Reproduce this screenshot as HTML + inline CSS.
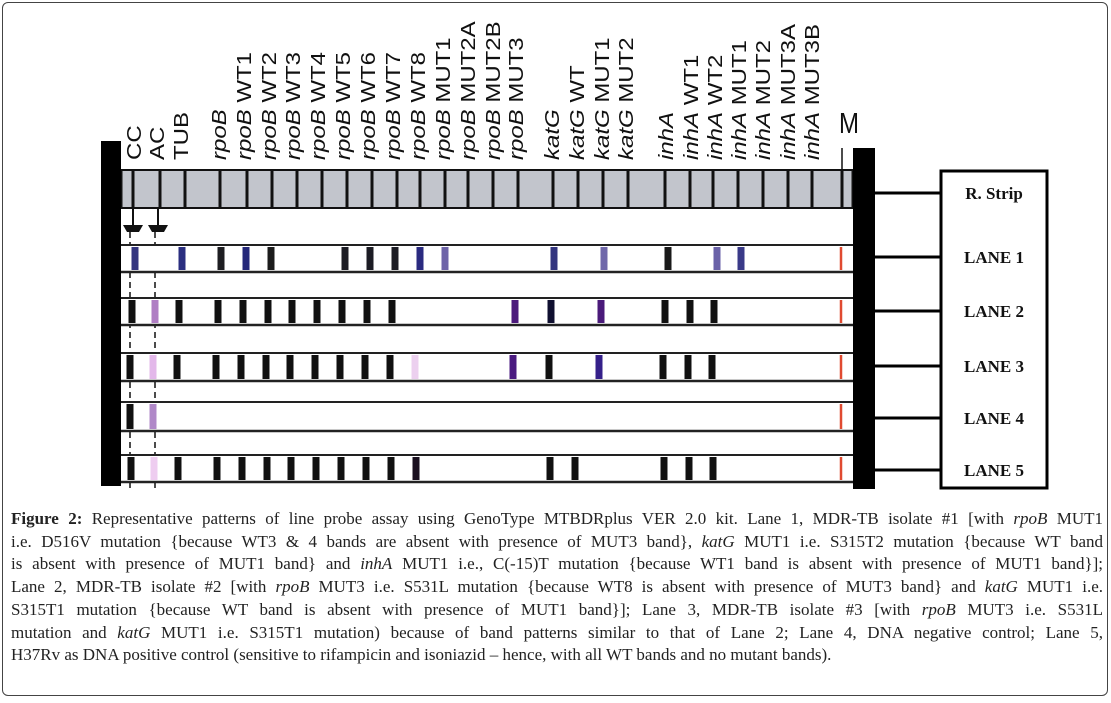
<!DOCTYPE html>
<html><head><meta charset="utf-8">
<style>
body{margin:0;background:#fff;}
#wrap{position:relative;width:1111px;height:703px;overflow:hidden;background:#fff;}
#frame{position:absolute;left:2px;top:2px;width:1104px;height:692px;border:1.5px solid #444;border-radius:6px;}
#cap{position:absolute;left:11px;top:508px;width:1092px;font-family:"Liberation Serif",serif;font-size:17px;line-height:22.7px;color:#222;}
#cap div{text-align:justify;text-align-last:justify;white-space:nowrap;}
#cap div.last{text-align-last:left;}
svg text{font-family:"Liberation Sans",sans-serif;}
</style></head><body>
<div id="wrap">
<div id="frame"></div>
<svg id="fig" width="1111" height="703" style="position:absolute;left:0;top:0"></svg>
<div id="cap">
<div><b>Figure 2:</b> Representative patterns of line probe assay using GenoType MTBDRplus VER 2.0 kit. Lane 1, MDR-TB isolate #1 [with <i>rpoB</i> MUT1</div>
<div>i.e. D516V mutation {because WT3 &amp; 4 bands are absent with presence of MUT3 band}, <i>katG</i> MUT1 i.e. S315T2 mutation {because WT band</div>
<div>is absent with presence of MUT1 band} and <i>inhA</i> MUT1 i.e., C(-15)T mutation {because WT1 band is absent with presence of MUT1 band}];</div>
<div>Lane 2, MDR-TB isolate #2 [with <i>rpoB</i> MUT3 i.e. S531L mutation {because WT8 is absent with presence of MUT3 band} and <i>katG</i> MUT1 i.e.</div>
<div>S315T1 mutation {because WT band is absent with presence of MUT1 band}]; Lane 3, MDR-TB isolate #3 [with <i>rpoB</i> MUT3 i.e. S531L</div>
<div>mutation and <i>katG</i> MUT1 i.e. S315T1 mutation) because of band patterns similar to that of Lane 2; Lane 4, DNA negative control; Lane 5,</div>
<div class="last">H37Rv as DNA positive control (sensitive to rifampicin and isoniazid – hence, with all WT bands and no mutant bands).</div>
</div>
</div>
<script>
const probeGenes = ["","","","rpoB","rpoB","rpoB","rpoB","rpoB","rpoB","rpoB","rpoB","rpoB","rpoB","rpoB","rpoB","rpoB","katG","katG","katG","katG","inhA","inhA","inhA","inhA","inhA","inhA","inhA","M"];
const probeSuffix = ["CC","AC","TUB","","WT1","WT2","WT3","WT4","WT5","WT6","WT7","WT8","MUT1","MUT2A","MUT2B","MUT3","","WT","MUT1","MUT2","","WT1","WT2","MUT1","MUT2","MUT3A","MUT3B",""];
const probeX = [132,155,179,218,243,268,292,317,342,367,392,417,442,467,492,515,551,576,601,625,665,690,714,738,762,787,811,841];
const laneNames = ["LANE 1","LANE 2","LANE 3","LANE 4","LANE 5"];
const laneTop = [245,298,353,402,455];
const laneBottom = [272,325,381,431,482];
const laneShift = [3,0,-2,-2,-1];
// bands per lane: probe index and colour
const lane1Bands = [[0,"#34357f"],[2,"#2b2f80"],[3,"#1e1e22"],[4,"#25287a"],[5,"#1c1c1c"],[8,"#1c1c24"],[9,"#1c1c24"],[10,"#1c1c24"],[11,"#2a2a80"],[12,"#6e64a8"],[16,"#33357f"],[18,"#7068aa"],[20,"#1a1a1a"],[22,"#6a62a8"],[23,"#3a3a88"],[27,"#e04a30"]];
const lane2Bands = [[0,"#111"],[1,"#b07ec4"],[2,"#111"],[3,"#111"],[4,"#111"],[5,"#111"],[6,"#111"],[7,"#111"],[8,"#111"],[9,"#111"],[10,"#111"],[15,"#4c1a7c"],[16,"#101030"],[18,"#4a1a7a"],[20,"#111"],[21,"#111"],[22,"#111"],[27,"#e04a30"]];
const lane3Bands = [[0,"#111"],[1,"#e3b8ea"],[2,"#111"],[3,"#111"],[4,"#111"],[5,"#111"],[6,"#111"],[7,"#111"],[8,"#111"],[9,"#111"],[10,"#111"],[11,"#ecd0ef"],[15,"#4a1a80"],[16,"#111"],[18,"#35208a"],[20,"#111"],[21,"#111"],[22,"#111"],[27,"#e04a30"]];
const lane4Bands = [[0,"#111"],[1,"#b088c8"],[27,"#e04a30"]];
const lane5Bands = [[0,"#111"],[1,"#eecdf0"],[2,"#111"],[3,"#111"],[4,"#111"],[5,"#111"],[6,"#111"],[7,"#111"],[8,"#111"],[9,"#111"],[10,"#111"],[11,"#1a1020"],[16,"#111"],[17,"#111"],[20,"#111"],[21,"#111"],[22,"#111"],[27,"#e04a30"]];
const allLanes = [lane1Bands,lane2Bands,lane3Bands,lane4Bands,lane5Bands];
const cellDividers = [121,133,160,185,220,247,272,297,322,347,372,397,420,445,468,493,518,553,578,603,628,665,690,713,738,763,788,812,842,853];

const NS="http://www.w3.org/2000/svg";
const svg=document.getElementById('fig');
function mk(tag,attrs,parent){const e=document.createElementNS(NS,tag);for(const k in attrs)e.setAttribute(k,attrs[k]);(parent||svg).appendChild(e);return e;}

for(const x of [130,155]){
  const d=mk('line',{x1:x,y1:232,x2:x,y2:488,stroke:'#111','stroke-width':1.5,'stroke-dasharray':'6,4'});
  
  
}
const strip=mk('rect',{x:121,y:170,width:732,height:38,fill:'#c2c5cc',stroke:'#111','stroke-width':2});


for(const x of cellDividers){
  const l=mk('line',{x1:x,y1:170,x2:x,y2:208,stroke:'#111','stroke-width':3});
  
  
}
mk('line',{x1:842,y1:148,x2:842,y2:170,stroke:'#111','stroke-width':1.5});
for(const x of [133,158]){
  const g=mk('g',{});
  
  
  mk('line',{x1:x,y1:208,x2:x,y2:226,stroke:'#111','stroke-width':2},g);
  mk('polygon',{points:`${x-10},225 ${x+10},225 ${x+6},232 ${x-6},232`,fill:'#111'},g);
}
allLanes.forEach((bands,i)=>{
  const t=laneTop[i],b=laneBottom[i];
  const g=mk('g',{});
  
  
  mk('rect',{x:121,y:t,width:732,height:b-t,fill:'#fff'},g);
  mk('line',{x1:121,y1:t,x2:853,y2:t,stroke:'#222','stroke-width':2},g);
  mk('line',{x1:121,y1:b,x2:853,y2:b,stroke:'#222','stroke-width':2.5},g);
  for(const [p,c] of bands){
    const red=(p===27);
    const w=red?2.5:7;
    const cx=probeX[p]+(red?0:laneShift[i]);
    const r=mk('rect',{x:cx-w/2,y:t+2,width:w,height:b-t-4,fill:c},g);
    
    
  }
});
const lb=mk('rect',{x:101,y:141,width:20,height:345,fill:'#000'});


const rb=mk('rect',{x:853,y:148,width:22,height:341,fill:'#000'});


const rowY=[193,257,311,366,418,470];
const rowLabels=["R. Strip"].concat(laneNames);
for(const y of rowY){
  const c=mk('line',{x1:875,y1:y,x2:941,y2:y,stroke:'#000','stroke-width':3});
  
  
}
const box=mk('rect',{x:941,y:171,width:106,height:317,fill:'#fff',stroke:'#000','stroke-width':3});


rowLabels.forEach((s,i)=>{
  const t=mk('text',{x:994,y:rowY[i]+6,'text-anchor':'middle','font-size':17,'font-weight':'bold',fill:'#111',style:'font-family:"Liberation Serif",serif'});
  t.textContent=s;
  
  
});
probeGenes.forEach((g,i)=>{
  const x=probeX[i]+ (i<3?1:0);
  const isM=(i===27);
  const tr=isM?`translate(${x+8},133) scale(1,1.2)`:`translate(${x+8},160) rotate(-90) scale(1.2,1)`;
  const t=mk('text',{x:0,y:0,transform:tr,'font-size':isM?24:20,fill:'#111','text-anchor':isM?'middle':'start'});
  
  
  if(isM){t.textContent='M';return;}
  if(g){const a=mk('tspan',{'font-style':'italic'},t);a.textContent=g;}
  if(probeSuffix[i]){const b=mk('tspan',{},t);b.textContent=(g?' ':'')+probeSuffix[i];}
});
</script>
</body></html>
